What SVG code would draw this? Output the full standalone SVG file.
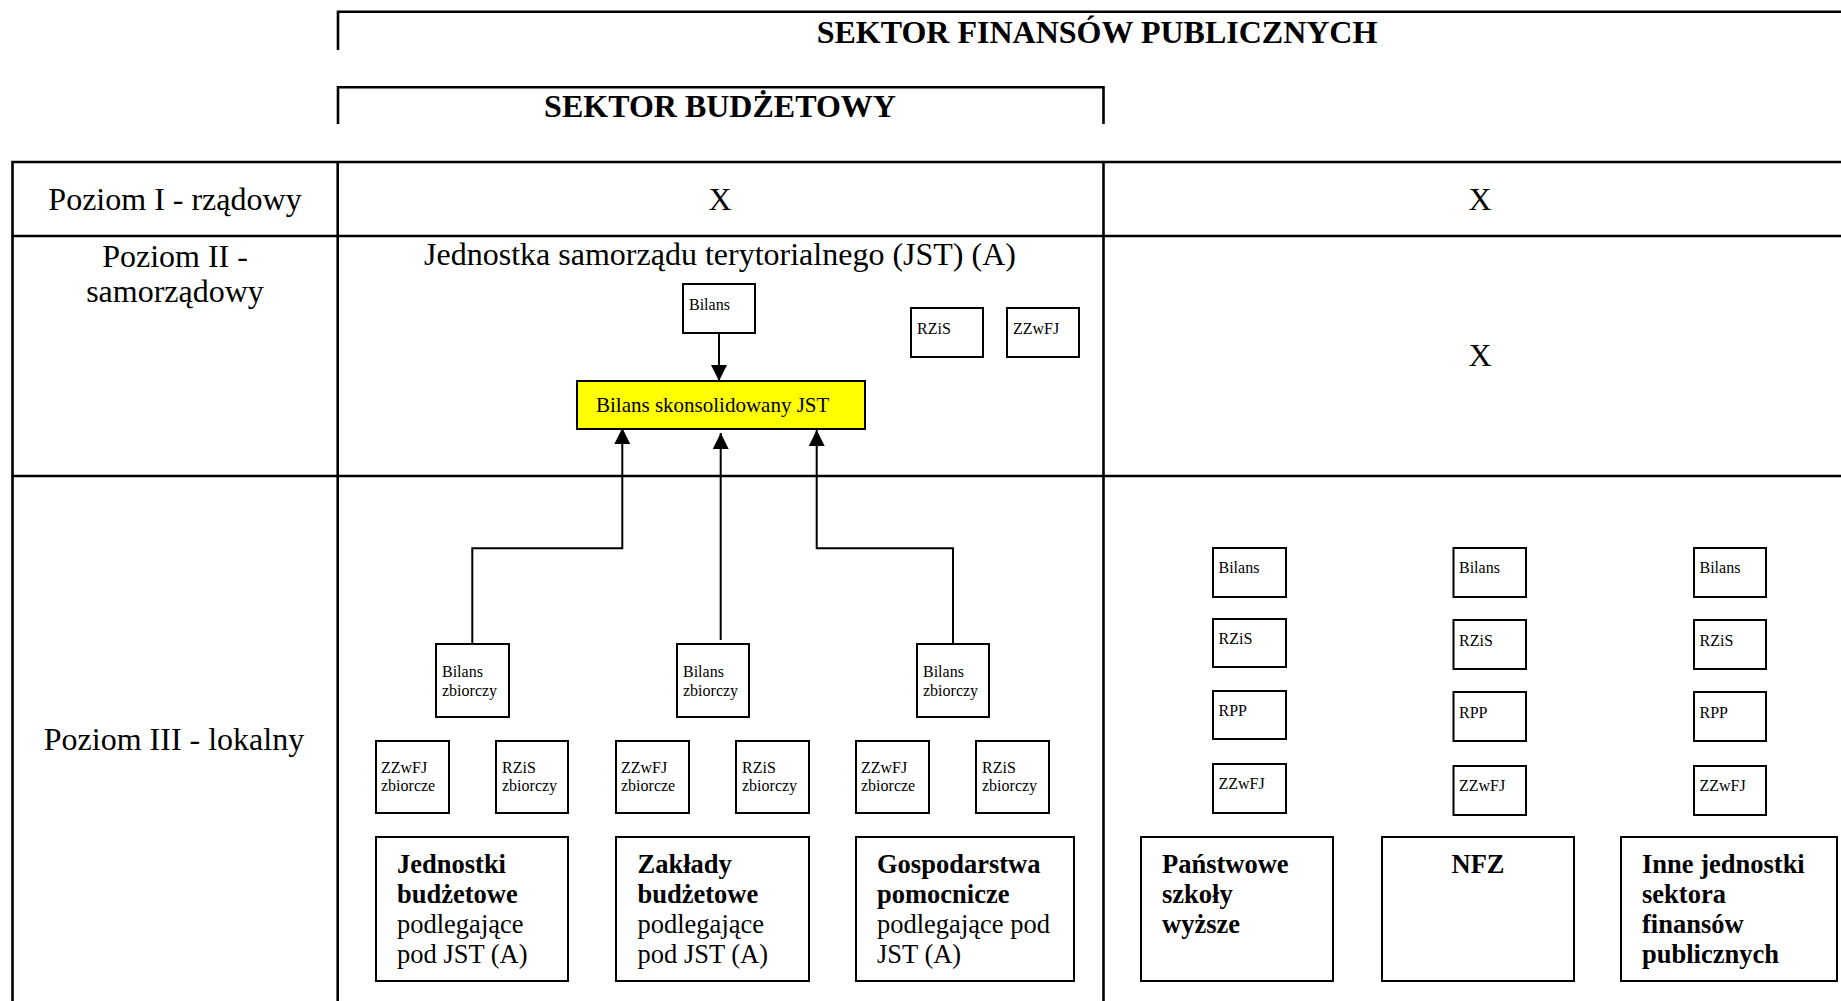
<svg xmlns="http://www.w3.org/2000/svg" width="1841" height="1001" viewBox="0 0 1841 1001">
<style>
  text { font-family: "Liberation Serif", "Times New Roman", serif; fill: #000; }
  .t32 { font-size: 32px; }
  .b32 { font-size: 32px; font-weight: bold; }
  .mid { text-anchor: middle; }
  .sm { font-size: 16px; }
  .bx { font-size: 26.5px; }
  .bb { font-size: 26.5px; font-weight: bold; }
  .grid { stroke: #000; stroke-width: 2.6; fill: none; }
  .box { stroke: #000; stroke-width: 2; fill: #fff; }
  .conn { stroke: #000; stroke-width: 2; fill: none; }
</style>
<defs>
  <marker id="ah" markerUnits="userSpaceOnUse" markerWidth="16" markerHeight="16" viewBox="0 0 16 16" refX="16" refY="8" orient="auto">
    <path d="M0,0 L16,8 L0,16 Z" fill="#000"/>
  </marker>
</defs>
<rect x="0" y="0" width="1841" height="1001" fill="#fff"/>

<g id="header">
  <path class="grid" d="M338,50 V11.7 H1841"/>
  <text class="b32 mid" x="1097" y="43">SEKTOR FINANSÓW PUBLICZNYCH</text>
  <path class="grid" d="M338,124 V87.3 H1103.5 V124"/>
  <text class="b32 mid" x="720" y="117">SEKTOR BUDŻETOWY</text>
</g>

<g id="table">
  <path class="grid" d="M12.5,1001 V162 H1841"/>
  <path class="grid" d="M12.5,236 H1841"/>
  <path class="grid" d="M12.5,476 H1841"/>
  <path class="grid" d="M337.7,162 V1001"/>
  <path class="grid" d="M1103.5,162 V1001"/>
  <text class="t32 mid" x="175" y="210">Poziom I - rządowy</text>
  <text class="t32 mid" x="720" y="210">X</text>
  <text class="t32 mid" x="1480" y="210">X</text>
  <text class="t32 mid" x="175" y="267">Poziom II -</text>
  <text class="t32 mid" x="175" y="302">samorządowy</text>
  <text class="t32 mid" x="720" y="265">Jednostka samorządu terytorialnego (JST) (A)</text>
  <text class="t32 mid" x="1480" y="366">X</text>
  <text class="t32 mid" x="174" y="750">Poziom III - lokalny</text>
</g>

<g id="connectors">
  <path class="conn" d="M719,333 V381" marker-end="url(#ah)"/>
  <path class="conn" d="M472.3,644 V548.3 H622.3 V428" marker-end="url(#ah)"/>
  <path class="conn" d="M720.7,640 V433" marker-end="url(#ah)"/>
  <path class="conn" d="M953,644 V548.3 H816.7 V430" marker-end="url(#ah)"/>
</g>

<g id="jst-bilans"><rect class="box" x="683" y="284" width="72" height="49"/><text class="sm" x="689" y="310">Bilans</text></g>
<g id="jst-rzis"><rect class="box" x="911" y="308" width="72" height="49"/><text class="sm" x="917" y="334">RZiS</text></g>
<g id="jst-zzwfj"><rect class="box" x="1007" y="308" width="72" height="49"/><text class="sm" x="1013" y="334">ZZwFJ</text></g>
<g id="jst-skons"><rect x="577" y="381" width="288" height="48" fill="#ffff00" stroke="#000" stroke-width="2"/><text x="596" y="412" style="font-size:21px">Bilans skonsolidowany JST</text></g>

<g id="jb-bilans"><rect class="box" x="436" y="644" width="73" height="73"/><text class="sm" x="442" y="677">Bilans</text><text class="sm" x="442" y="695.5">zbiorczy</text></g>
<g id="zb-bilans"><rect class="box" x="677" y="644" width="72" height="73"/><text class="sm" x="683" y="677">Bilans</text><text class="sm" x="683" y="695.5">zbiorczy</text></g>
<g id="gp-bilans"><rect class="box" x="917" y="644" width="72" height="73"/><text class="sm" x="923" y="677">Bilans</text><text class="sm" x="923" y="695.5">zbiorczy</text></g>

<g id="jb-zzwfj"><rect class="box" x="376" y="741" width="73" height="72"/><text class="sm" x="381" y="772.5">ZZwFJ</text><text class="sm" x="381" y="791">zbiorcze</text></g>
<g id="jb-rzis"><rect class="box" x="496" y="741" width="72" height="72"/><text class="sm" x="502" y="772.5">RZiS</text><text class="sm" x="502" y="791">zbiorczy</text></g>
<g id="zb-zzwfj"><rect class="box" x="616" y="741" width="73" height="72"/><text class="sm" x="621" y="772.5">ZZwFJ</text><text class="sm" x="621" y="791">zbiorcze</text></g>
<g id="zb-rzis"><rect class="box" x="736" y="741" width="73" height="72"/><text class="sm" x="742" y="772.5">RZiS</text><text class="sm" x="742" y="791">zbiorczy</text></g>
<g id="gp-zzwfj"><rect class="box" x="856" y="741" width="73" height="72"/><text class="sm" x="861" y="772.5">ZZwFJ</text><text class="sm" x="861" y="791">zbiorcze</text></g>
<g id="gp-rzis"><rect class="box" x="976" y="741" width="73" height="72"/><text class="sm" x="982" y="772.5">RZiS</text><text class="sm" x="982" y="791">zbiorczy</text></g>

<g id="jednostki-budzetowe"><rect class="box" x="376" y="837" width="192" height="144"/>
  <text class="bb" x="397" y="873">Jednostki</text><text class="bb" x="397" y="903">budżetowe</text>
  <text class="bx" x="397" y="933">podlegające</text><text class="bx" x="397" y="963">pod JST (A)</text></g>
<g id="zaklady-budzetowe"><rect class="box" x="616" y="837" width="193" height="144"/>
  <text class="bb" x="637.5" y="873">Zakłady</text><text class="bb" x="637.5" y="903">budżetowe</text>
  <text class="bx" x="637.5" y="933">podlegające</text><text class="bx" x="637.5" y="963">pod JST (A)</text></g>
<g id="gospodarstwa-pomocnicze"><rect class="box" x="856" y="837" width="218" height="144"/>
  <text class="bb" x="877" y="873">Gospodarstwa</text><text class="bb" x="877" y="903">pomocnicze</text>
  <text class="bx" x="877" y="933">podlegające pod</text><text class="bx" x="877" y="963">JST (A)</text></g>

<g id="psw-bilans"><rect class="box" x="1213" y="548" width="73" height="49"/><text class="sm" x="1218.5" y="573">Bilans</text></g>
<g id="psw-rzis"><rect class="box" x="1213" y="619" width="73" height="48"/><text class="sm" x="1218.5" y="644">RZiS</text></g>
<g id="psw-rpp"><rect class="box" x="1213" y="691" width="73" height="48"/><text class="sm" x="1218.5" y="716">RPP</text></g>
<g id="psw-zzwfj"><rect class="box" x="1213" y="764" width="73" height="49"/><text class="sm" x="1218.5" y="789">ZZwFJ</text></g>

<g id="nfz-bilans"><rect class="box" x="1453.5" y="548" width="72.5" height="49"/><text class="sm" x="1459" y="573">Bilans</text></g>
<g id="nfz-rzis"><rect class="box" x="1453.5" y="620" width="72.5" height="49"/><text class="sm" x="1459" y="646">RZiS</text></g>
<g id="nfz-rpp"><rect class="box" x="1453.5" y="692" width="72.5" height="49"/><text class="sm" x="1459" y="718">RPP</text></g>
<g id="nfz-zzwfj"><rect class="box" x="1453.5" y="766" width="72.5" height="49"/><text class="sm" x="1459" y="791">ZZwFJ</text></g>

<g id="inne-bilans"><rect class="box" x="1694" y="548" width="72" height="49"/><text class="sm" x="1699.5" y="573">Bilans</text></g>
<g id="inne-rzis"><rect class="box" x="1694" y="620" width="72" height="49"/><text class="sm" x="1699.5" y="646">RZiS</text></g>
<g id="inne-rpp"><rect class="box" x="1694" y="692" width="72" height="49"/><text class="sm" x="1699.5" y="718">RPP</text></g>
<g id="inne-zzwfj"><rect class="box" x="1694" y="766" width="72" height="49"/><text class="sm" x="1699.5" y="791">ZZwFJ</text></g>

<g id="panstwowe-szkoly"><rect class="box" x="1141" y="837" width="192" height="144"/>
  <text class="bb" x="1162" y="873">Państwowe</text><text class="bb" x="1162" y="903">szkoły</text><text class="bb" x="1162" y="933">wyższe</text></g>
<g id="nfz"><rect class="box" x="1382" y="837" width="192" height="144"/>
  <text class="bb mid" x="1478" y="873">NFZ</text></g>
<g id="inne-jednostki"><rect class="box" x="1621" y="837" width="216" height="144"/>
  <text class="bb" x="1642" y="873">Inne jednostki</text><text class="bb" x="1642" y="903">sektora</text>
  <text class="bb" x="1642" y="933">finansów</text><text class="bb" x="1642" y="963">publicznych</text></g>
</svg>
